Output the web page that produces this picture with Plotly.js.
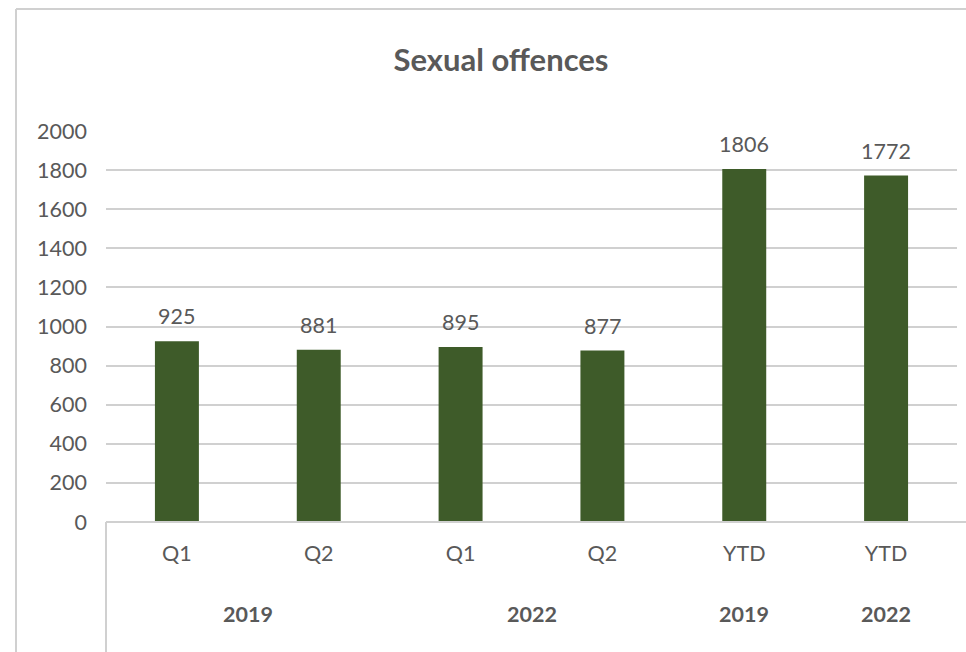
<!DOCTYPE html>
<html>
<head>
<meta charset="utf-8">
<script src="https://cdn.plot.ly/plotly-3.0.1.min.js"></script>
<style>html,body{margin:0;padding:0;background:#fff;}#chart{width:966px;height:652px;}</style>
</head>
<body>
<div id="chart"></div>
<script>
// Data
const years = ["2019", "2019", "2022", "2022", "2019", "2022"];
const periods = ["Q1", "Q2", "Q1", "Q2", "YTD", "YTD"];
const values = [925, 881, 895, 877, 1806, 1772];
const groupLabels = ["2019", "2022", "2019", "2022"];
const groupMembers = [[0, 1], [2, 3], [4], [5]];
const yTicks = [0, 200, 400, 600, 800, 1000, 1200, 1400, 1600, 1800, 2000];

const W = 966, H = 652;
const M = {l: 106, r: 9, t: 131, b: 130};
const PW = W - M.l - M.r, PH = H - M.t - M.b;
const px2x = p => (p - M.l) / PW;
const px2y = p => (H - M.b - p) / PH;

const ids = years.map((y, i) => y + " " + periods[i]);
const grey = "#595959";
const lineGrey = "#d0d0d0";
const font = "Lato, 'Open Sans', sans-serif";
const fs = 21.5;

const trace = {
  type: "bar",
  x: ids,
  y: values,
  width: 0.31,
  marker: {color: "#3e5b29"},
  hoverinfo: "skip"
};

const annotations = [];
values.forEach((v, i) => {
  annotations.push({
    x: ids[i], y: v, xref: "x", yref: "y",
    text: String(v), showarrow: false,
    yanchor: "bottom", yshift: 10,
    font: {family: font, size: fs, color: grey}
  });
});
groupMembers.forEach((m, g) => {
  const idx = m.reduce((a, b) => a + b, 0) / m.length;
  annotations.push({
    x: idx, y: px2y(614), xref: "x", yref: "paper",
    text: groupLabels[g], showarrow: false, yanchor: "middle",
    font: {family: font, size: fs, color: grey, weight: "bold"}
  });
});

const shapes = [
  {type: "line", xref: "paper", yref: "paper", x0: 0, x1: px2x(W), y0: 0, y1: 0, line: {color: lineGrey, width: 2}},
  {type: "line", xref: "paper", yref: "paper", x0: 0, x1: 0, y0: 0, y1: px2y(H), line: {color: lineGrey, width: 2}},
  {type: "line", xref: "paper", yref: "paper", x0: px2x(16), x1: px2x(16), y0: px2y(9), y1: px2y(H), line: {color: lineGrey, width: 2}},
  {type: "line", xref: "paper", yref: "paper", x0: px2x(16), x1: px2x(W), y0: px2y(9), y1: px2y(9), line: {color: lineGrey, width: 2}}
];

const layout = {
  width: W, height: H,
  margin: M,
  paper_bgcolor: "#fff", plot_bgcolor: "#fff",
  showlegend: false,
  title: {
    text: "Sexual offences",
    font: {family: font, size: 31, color: grey, weight: "bold"},
    xref: "paper", x: px2x(501), xanchor: "center",
    yref: "container", y: 1 - 60 / H, yanchor: "middle"
  },
  xaxis: {
    type: "category",
    tickvals: ids, ticktext: periods,
    showgrid: false, zeroline: false, showline: false,
    ticks: "", ticklabelstandoff: 16,
    tickfont: {family: font, size: fs, color: grey},
    fixedrange: true
  },
  yaxis: {
    range: [0, 2000],
    tickvals: yTicks,
    showgrid: true, gridcolor: lineGrey, gridwidth: 2,
    zeroline: false, showline: false,
    ticks: "", ticklabelstandoff: 18,
    tickfont: {family: font, size: fs, color: grey},
    fixedrange: true
  },
  annotations: annotations,
  shapes: shapes
};

Plotly.newPlot("chart", [trace], layout, {displayModeBar: false, staticPlot: true});
</script>
</body>
</html>
